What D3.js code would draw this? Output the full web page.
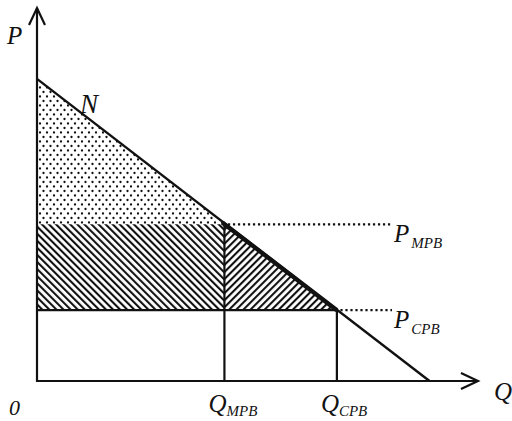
<!DOCTYPE html>
<html>
<head>
<meta charset="utf-8">
<script src="https://cdn.jsdelivr.net/npm/d3@7"></script>
<style>
  body { margin: 0; background: #fff; }
  text { font-family: "Liberation Serif", "DejaVu Serif", serif; font-style: italic; fill: #111; }
</style>
</head>
<body>
<svg id="chart"></svg>
<script>
// Demand curve N (two end points)
const demandQ = [0, 8.9];
const demandP = [8.1, 0];

// Quantity levels and price levels
const qLevels = [4.25, 6.8];
const pLevels = [4.2, 1.9];
const levelNames = ["MPB", "CPB"];

// Axis extent
const axisMax = { q: 10, p: 10 };

const width = 512, height = 421;

const svg = d3.select("#chart")
    .attr("width", width)
    .attr("height", height);

const x = d3.scaleLinear().domain([0, axisMax.q]).range([37, 478]);
const y = d3.scaleLinear().domain([0, axisMax.p]).range([381, 8]);

const ink = "#111";

// Patterns
const defs = svg.append("defs");

const dots = defs.append("pattern")
    .attr("id", "dots")
    .attr("patternUnits", "userSpaceOnUse")
    .attr("width", 7).attr("height", 9);
dots.append("circle").attr("cx", 1.5).attr("cy", 2).attr("r", 1.15).attr("fill", ink);
dots.append("circle").attr("cx", 5).attr("cy", 6.5).attr("r", 1.15).attr("fill", ink);

function hatch(id, angle) {
    const p = defs.append("pattern")
        .attr("id", id)
        .attr("patternUnits", "userSpaceOnUse")
        .attr("width", 5).attr("height", 10)
        .attr("patternTransform", `rotate(${angle})`);
    p.append("line")
        .attr("x1", 1).attr("y1", 0).attr("x2", 1).attr("y2", 10)
        .attr("stroke", ink).attr("stroke-width", 2.2);
}
hatch("hatchBack", -45);  // "\"
hatch("hatchFwd", 45);    // "/"

const line = d3.line().x(d => x(d[0])).y(d => y(d[1]));

const [qM, qC] = qLevels;
const [pM, pC] = pLevels;

// Stippled triangle (top)
svg.append("path")
    .attr("d", line([[0, demandP[0]], [qM, pM], [0, pM]]) + "Z")
    .attr("fill", "url(#dots)");

// Hatched rectangle
svg.append("path")
    .attr("d", line([[0, pM], [qM, pM], [qM, pC], [0, pC]]) + "Z")
    .attr("fill", "url(#hatchBack)");

// Hatched triangle
svg.append("path")
    .attr("d", line([[qM, pM], [qC, pC], [qM, pC]]) + "Z")
    .attr("fill", "url(#hatchFwd)");

// Solid guide lines
const solid = [
    [[0, pC], [qC, pC]],
    [[qM, pM], [qM, 0]],
    [[qC, pC], [qC, 0]]
];
svg.selectAll(".guide")
    .data(solid)
    .enter()
    .append("path")
    .attr("class", "guide")
    .attr("d", d => line(d))
    .attr("fill", "none")
    .attr("stroke", ink)
    .attr("stroke-width", 2.2);

// Dotted price lines
svg.selectAll(".dotted")
    .data([[qM, pM], [qC, pC]])
    .enter()
    .append("path")
    .attr("class", "dotted")
    .attr("d", d => line([[d[0] + 0.08, d[1]], [8.05, d[1]]]))
    .attr("fill", "none")
    .attr("stroke", ink)
    .attr("stroke-width", 2.4)
    .attr("stroke-dasharray", "2.2 2.8");

// Demand line N
svg.append("path")
    .attr("d", line([[demandQ[0], demandP[0]], [demandQ[1], demandP[1]]]))
    .attr("fill", "none")
    .attr("stroke", ink)
    .attr("stroke-width", 2.4);

// Heavier segment between the two points
svg.append("path")
    .attr("d", line([[qM - 0.05, pM + 0.05], [qC, pC]]))
    .attr("fill", "none")
    .attr("stroke", ink)
    .attr("stroke-width", 4.4);

// Axes
svg.append("path")
    .attr("d", line([[0, axisMax.p], [0, 0], [axisMax.q, 0]]))
    .attr("fill", "none")
    .attr("stroke", ink)
    .attr("stroke-width", 2.2);

// Arrow heads
svg.append("path")
    .attr("d", `M${x(0) - 8},${y(axisMax.p) + 17} L${x(0)},${y(axisMax.p)} L${x(0) + 8},${y(axisMax.p) + 17}`)
    .attr("fill", "none").attr("stroke", ink).attr("stroke-width", 2.2);
svg.append("path")
    .attr("d", `M${x(axisMax.q) - 17},${y(0) - 8} L${x(axisMax.q)},${y(0)} L${x(axisMax.q) - 17},${y(0) + 8}`)
    .attr("fill", "none").attr("stroke", ink).attr("stroke-width", 2.2);

// Labels
svg.append("text").attr("x", 7).attr("y", 44).attr("font-size", 25).text("P");
svg.append("text").attr("x", 494).attr("y", 400).attr("font-size", 25).text("Q");
svg.append("text").attr("x", 9).attr("y", 415).attr("font-size", 22).text("0");
svg.append("text").attr("x", 80).attr("y", 113).attr("font-size", 27).text("N");

// Q level labels
const qLab = svg.selectAll(".qlab")
    .data(qLevels)
    .enter()
    .append("text")
    .attr("class", "qlab")
    .attr("x", d => x(d) - 16)
    .attr("y", 412)
    .attr("font-size", 25);
qLab.append("tspan").text("Q");
qLab.append("tspan")
    .attr("font-size", 15)
    .attr("dy", 4)
    .text((d, i) => levelNames[i]);

// P level labels
const pLab = svg.selectAll(".plab")
    .data(pLevels)
    .enter()
    .append("text")
    .attr("class", "plab")
    .attr("x", 394)
    .attr("y", d => y(d) + 18)
    .attr("font-size", 25);
pLab.append("tspan").text("P");
pLab.append("tspan")
    .attr("font-size", 15)
    .attr("dx", 2)
    .attr("dy", 6)
    .text((d, i) => levelNames[i]);
</script>
</body>
</html>
